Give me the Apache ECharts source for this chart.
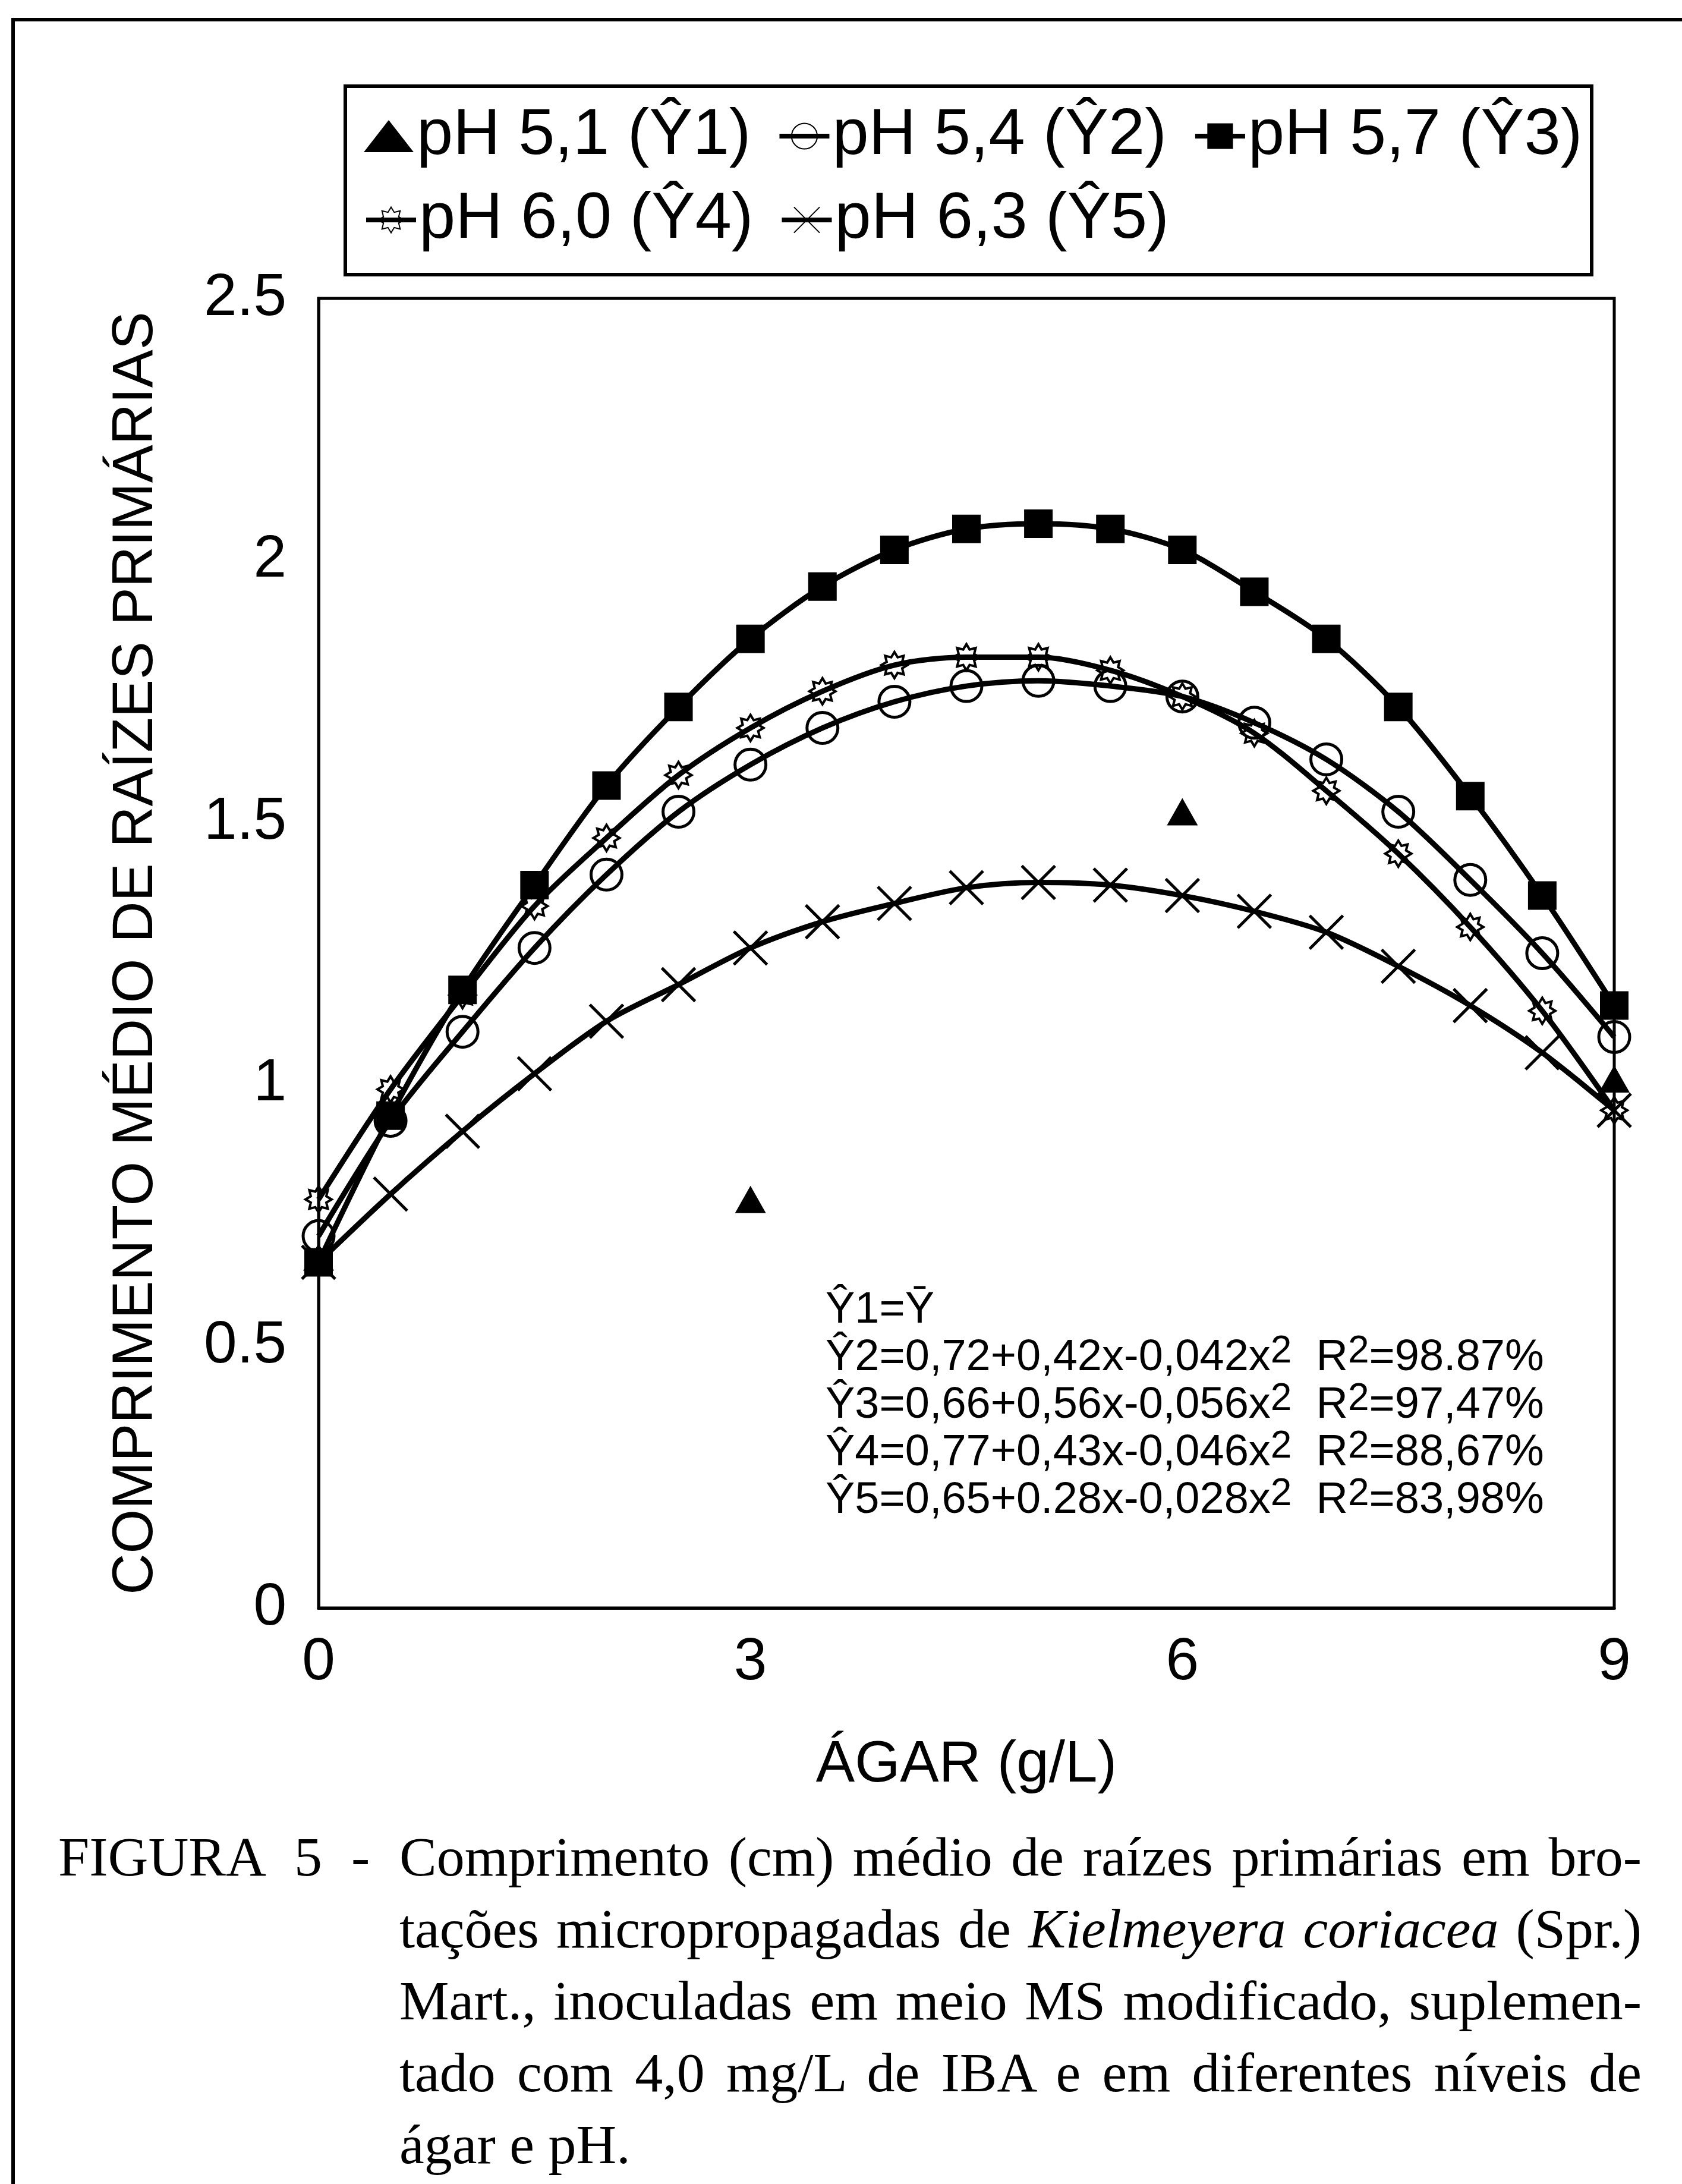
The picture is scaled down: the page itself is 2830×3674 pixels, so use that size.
<!DOCTYPE html>
<html lang="pt">

<head>
    <meta charset="UTF-8">
    <title>Figura 5 - Comprimento médio de raízes primárias</title>
    <style>
        html,
        body {
            margin: 0;
            padding: 0;
            background: #fff;
        }

        #chart {
            position: absolute;
            left: 0;
            top: 0;
            width: 2830px;
            height: 3674px;
        }

        .cap {
            position: absolute;
            font-family: 'Liberation Serif', 'Times New Roman', serif;
            font-size: 94px;
            line-height: 121px;
            color: #000;
            white-space: nowrap;
        }

        .just {
            white-space: normal;
            text-align: justify;
            text-align-last: justify;
        }
    </style>
</head>

<body>

    <div id="chart"></div>

    <div class="cap" style="left:98px; top:3063px;">FIGURA</div>
    <div class="cap" style="left:495px; top:3063px;">5</div>
    <div class="cap" style="left:591px; top:3063px;">-</div>
    <div class="cap just" style="left:672px; top:3063px; width:2090px;">Comprimento (cm) médio de raízes primárias em bro-</div>
    <div class="cap just" style="left:672px; top:3184px; width:2090px;">tações micropropagadas de <i>Kielmeyera coriacea</i> (Spr.)</div>
    <div class="cap just" style="left:672px; top:3305px; width:2090px;">Mart., inoculadas em meio MS modificado, suplemen-</div>
    <div class="cap just" style="left:672px; top:3426px; width:2090px;">tado com 4,0 mg/L de IBA e em diferentes níveis de</div>
    <div class="cap" style="left:672px; top:3547px;">ágar e pH.</div>

    <script src="https://cdn.jsdelivr.net/npm/echarts@6/dist/echarts.min.js"></script>
    <script>
        // agar levels (g/L) where the fitted curves carry a marker
        const agarLevels = [0, 0.5, 1, 1.5, 2, 2.5, 3, 3.5, 4, 4.5, 5, 5.5, 6, 6.5, 7, 7.5, 8, 8.5, 9]

        // pH 5,1 only has the observed means
        const y1Agar = [0, 3, 6, 9]
        const y1Values = [0.67, 0.78, 1.52, 1.01]

        // values
        const y2Values = [0.71, 0.93, 1.10, 1.26, 1.40, 1.52, 1.61, 1.68, 1.73, 1.76, 1.77, 1.76, 1.74, 1.69, 1.62, 1.52, 1.39, 1.25, 1.09]
        const y3Values = [0.66, 0.94, 1.18, 1.38, 1.57, 1.72, 1.85, 1.95, 2.02, 2.06, 2.07, 2.06, 2.02, 1.94, 1.85, 1.72, 1.55, 1.36, 1.15]
        const y4Values = [0.78, 0.99, 1.17, 1.34, 1.47, 1.59, 1.68, 1.75, 1.80, 1.815, 1.815, 1.79, 1.74, 1.67, 1.56, 1.44, 1.30, 1.14, 0.95]
        const y5Values = [0.66, 0.79, 0.91, 1.02, 1.12, 1.19, 1.26, 1.31, 1.345, 1.375, 1.385, 1.38, 1.36, 1.33, 1.29, 1.225, 1.15, 1.06, 0.95]

        const seriesNames = ['pH 5,1 (Ŷ1)', 'pH 5,4 (Ŷ2)', 'pH 5,7 (Ŷ3)', 'pH 6,0 (Ŷ4)', 'pH 6,3 (Ŷ5)']

        const xTicks = [0, 3, 6, 9]
        const yTicks = [0, 0.5, 1, 1.5, 2, 2.5]

        const equations = [
            ['Ŷ1=Ȳ', '', ''],
            ['Ŷ2=0,72+0,42x-0,042x', '  R', '=98.87%'],
            ['Ŷ3=0,66+0,56x-0,056x', '  R', '=97,47%'],
            ['Ŷ4=0,77+0,43x-0,046x', '  R', '=88,67%'],
            ['Ŷ5=0,65+0.28x-0,028x', '  R', '=83,98%']
        ]

        const FONT = 'Liberation Sans'
        const starPath = 'path://M50 0L62.2 20.4L85.4 14.6L79.6 37.8L100 50L79.6 62.2L85.4 85.4L62.2 79.6L50 100L37.8 79.6L14.6 85.4L20.4 62.2L0 50L20.4 37.8L14.6 14.6L37.8 20.4Z'
        const crossPath = 'path://M0 0L100 100M100 0L0 100'

        function pairs(xs, ys) {
            return xs.map((x, i) => [x, ys[i]])
        }

        function curve(name, values, symbol, size, filled, border) {
            return {
                name: name,
                type: 'line',
                smooth: 0.3,
                data: pairs(agarLevels, values),
                symbol: symbol,
                symbolSize: size,
                showAllSymbol: true,
                lineStyle: { color: '#000', width: 9 },
                itemStyle: {
                    color: filled ? '#000' : 'rgba(255,255,255,0)',
                    borderColor: '#000',
                    borderWidth: border,
                    opacity: 1
                },
                emphasis: { disabled: true }
            }
        }

        // equation block as rich text, superscript 2 raised
        const eqText = equations.map(e => {
            if (!e[1]) return '{m|' + e[0] + '}'
            return '{m|' + e[0] + '}{s|2}{m|' + e[1] + '}{s|2}{m|' + e[2] + '}'
        }).join('\n')

        const chartEl = document.querySelector('#chart')
        const myChart = echarts.init(chartEl, null, { renderer: 'canvas' })

        const legendBase = {
            orient: 'horizontal',
            left: 612,
            itemWidth: 84,
            itemHeight: 54,
            itemGap: 44,
            padding: 0,
            lineStyle: { width: 8, color: '#000' },
            textStyle: { fontFamily: FONT, fontSize: 110, color: '#000' },
            selectedMode: false
        }

        const option = {
            animation: false,
            backgroundColor: '#fff',
            textStyle: { fontFamily: FONT, color: '#000' },
            grid: {
                left: 536,
                top: 502,
                width: 2180,
                height: 2203,
                show: true,
                borderColor: '#000',
                borderWidth: 5,
                outerBoundsMode: 'none'
            },
            legend: [
                Object.assign({}, legendBase, { data: seriesNames.slice(0, 3), top: 174 }),
                Object.assign({}, legendBase, { data: seriesNames.slice(3), top: 315 })
            ],
            xAxis: {
                type: 'value',
                min: xTicks[0],
                max: xTicks[xTicks.length - 1],
                interval: 3,
                name: 'ÁGAR (g/L)',
                nameLocation: 'middle',
                nameGap: 216,
                nameTextStyle: { fontFamily: FONT, fontSize: 98, color: '#000' },
                axisLine: { lineStyle: { color: '#000', width: 5 } },
                axisTick: { show: false },
                splitLine: { show: false },
                axisLabel: { fontFamily: FONT, fontSize: 100, color: '#000', margin: 42 }
            },
            yAxis: {
                type: 'value',
                min: yTicks[0],
                max: yTicks[yTicks.length - 1],
                interval: 0.5,
                name: 'COMPRIMENTO MÉDIO DE RAÍZES PRIMÁRIAS',
                nameLocation: 'middle',
                nameGap: 258,
                nameTextStyle: { fontFamily: FONT, fontSize: 96, color: '#000' },
                axisLine: { show: true, lineStyle: { color: '#000', width: 5 } },
                axisTick: { show: false },
                splitLine: { show: false },
                axisLabel: { fontFamily: FONT, fontSize: 100, color: '#000', margin: 54 }
            },
            series: [
                {
                    name: seriesNames[0],
                    type: 'scatter',
                    data: pairs(y1Agar, y1Values),
                    symbol: 'triangle',
                    symbolSize: [52, 46],
                    itemStyle: { color: '#000', opacity: 1 },
                    emphasis: { disabled: true },
                    z: 5
                },
                curve(seriesNames[1], y2Values, 'circle', 52, false, 5),
                curve(seriesNames[2], y3Values, 'rect', 48, true, 0),
                curve(seriesNames[3], y4Values, starPath, 44, false, 4),
                curve(seriesNames[4], y5Values, crossPath, 56, false, 5)
            ],
            graphic: [
                {
                    // outer frame of the figure (left and top edges)
                    type: 'polyline',
                    shape: { points: [[22, 3674], [22, 33], [2830, 33]] },
                    style: { stroke: '#000', lineWidth: 6, fill: null }
                },
                {
                    type: 'rect',
                    shape: { x: 581, y: 145, width: 2097, height: 317 },
                    style: { stroke: '#000', lineWidth: 6, fill: null }
                },
                {
                    type: 'text',
                    left: 1389,
                    top: 2168,
                    style: {
                        text: eqText,
                        fill: '#000',
                        rich: {
                            m: { fontFamily: FONT, fontSize: 74, lineHeight: 80, verticalAlign: 'bottom', fill: '#000' },
                            s: { fontFamily: FONT, fontSize: 64, lineHeight: 20, verticalAlign: 'top', fill: '#000' }
                        }
                    }
                }
            ]
        }

        myChart.setOption(option)
    </script>
</body>

</html>
